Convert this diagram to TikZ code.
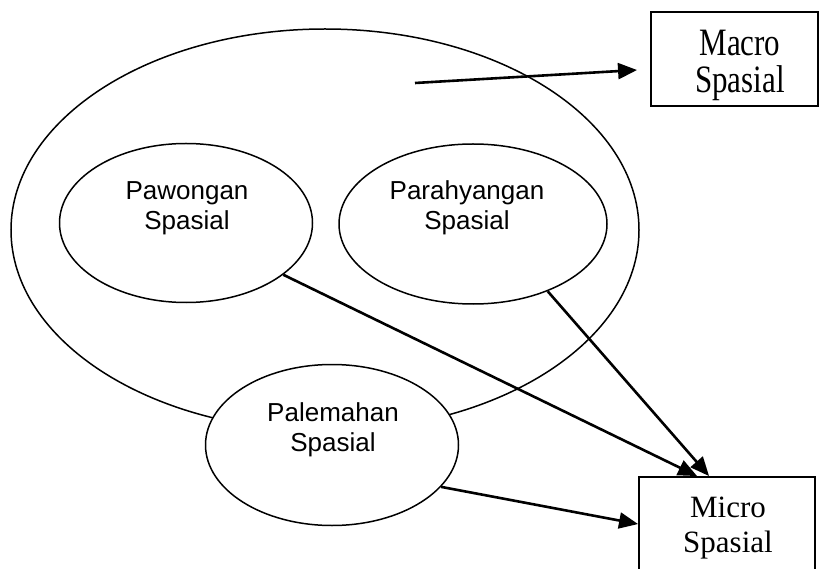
\documentclass[tikz,border=0pt]{standalone}
\usepackage{fontspec}
\setmainfont{Liberation Serif}
\setsansfont{Liberation Sans}
\usetikzlibrary{shapes.geometric,arrows.meta}

\begin{document}
\begin{tikzpicture}[x=1pt,y=-1pt,
    ring/.style={draw,ellipse,line width=1.5pt,inner sep=0pt},
    frame/.style={draw,rectangle,line width=1.9pt,inner sep=0pt},
    flow/.style={-{Triangle[length=19pt,width=16pt]},line width=2.6pt},
    aspek/.style={font=\sffamily\fontsize{26}{30}\selectfont,align=center},
    skala/.style={font=\fontsize{31}{35}\selectfont,align=center}]
    \path[use as bounding box,clip] (0,0) rectangle (819,569);
    %outer ellipse and the three inner ones
    \node[ring,minimum width=628pt,minimum height=402pt] (tri) at (325,230) {};
    \node[ring,minimum width=253pt,minimum height=159pt] (paw) at (186,223) {};
    \node[ring,minimum width=268pt,minimum height=160pt] (para) at (473,224) {};
    \node[ring,minimum width=253pt,minimum height=161pt,fill=white] (pale) at (332,445) {};
    \node[aspek] (pawtxt) at (187,208) {Pawongan\\Spasial};
    \node[aspek] (paratxt) at (467,208) {Parahyangan\\Spasial};
    \node[aspek] (paletxt) at (333,430) {Palemahan\\Spasial};
    %macro and micro boxes
    \node[frame,minimum width=167pt,minimum height=94pt] (macro) at (734.5,59) {};
    \node[font=\fontsize{31}{25}\selectfont] (macrotxt) at (740,66)
      {\scalebox{1}[1.25]{\begin{tabular}{@{}c@{}}Macro\\Spasial\end{tabular}}};
    \node[frame,minimum width=176pt,minimum height=124pt] (micro) at (727,539) {};
    \node[skala] (microtxt) at (728,528) {Micro\\Spasial};
    %arrows
    \coordinate (mid) at (415,83);
    \draw[flow] (mid) -- ([xshift=-13pt,yshift=-11pt]macro.west);
    \draw[flow] (paw.-28) -- ([xshift=59pt]micro.north west);
    \draw[flow] (para.-42) -- ([xshift=71pt]micro.north west);
    \draw[flow] (pale.-21) -- ([yshift=-48pt]micro.north west);
\end{tikzpicture}
\end{document}
